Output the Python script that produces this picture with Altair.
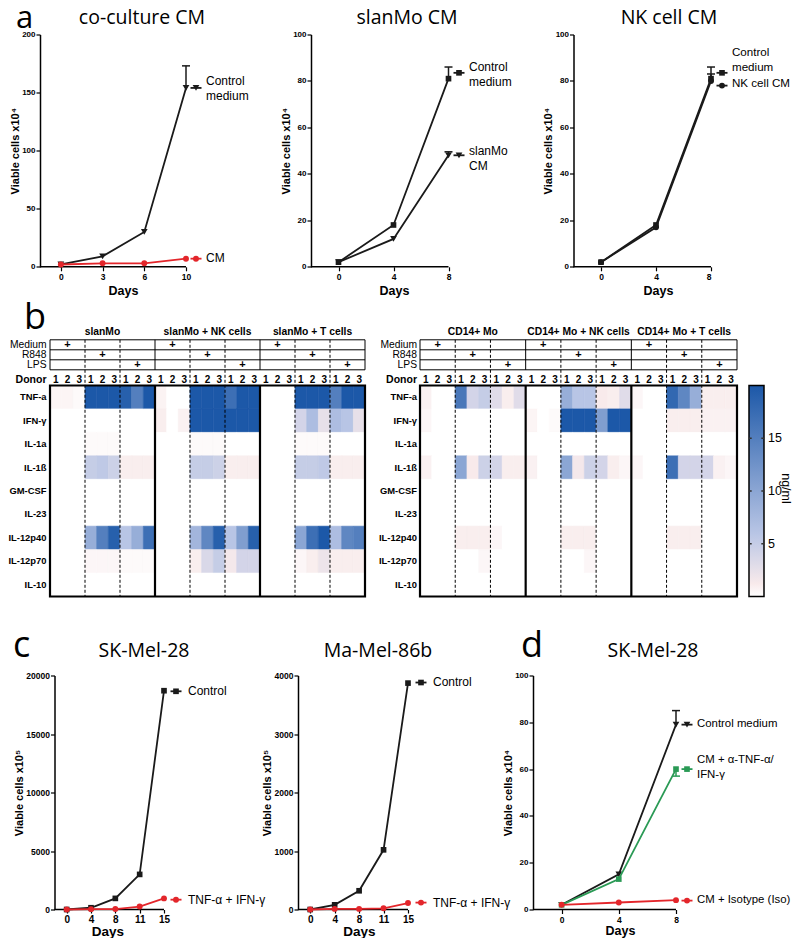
import altair as alt
import pandas as pd

FONT = "Liberation Sans"
TITLE_FONT = "Open Sans"
BLACK = "#1a1a1a"
RED = "#e3262b"
GREEN = "#2a9a55"

# ---------------- panel a ----------------
A1_DAYS = ["0", "3", "6", "10"]
A1_CTRL = [2, 9, 30, 154]
A1_CTRL_ERR = [None, None, None, 173]
A1_CM = [2, 3, 3, 7]

A2_DAYS = ["0", "4", "8"]
A2_CTRL = [2, 18, 81]
A2_CTRL_ERR = [None, None, 86]
A2_SLAN = [2, 12, 48]
A2_SLAN_ERR = [None, None, 49.5]

A3_DAYS = ["0", "4", "8"]
A3_CTRL = [2, 18, 81]
A3_CTRL_ERR = [None, None, 86]
A3_NK = [2, 17, 80]
A3_NK_ERR = [None, None, 83]

# ---------------- panel c ----------------
C_DAYS = ["0", "4", "8", "11", "15"]
C1_CTRL = [0, 150, 950, 3000, 18700]
C1_TNF = [0, 30, 40, 250, 950]
C2_CTRL = [0, 80, 320, 1020, 3870]
C2_TNF = [0, 10, 10, 20, 110]

# ---------------- panel d ----------------
D_DAYS = ["0", "4", "8"]
D_CTRL = [2, 15, 79]
D_CTRL_ERR = [None, None, 85]
D_ANTI = [2, 13, 60]
D_ANTI_ERR = [None, None, 57]
D_ISO = [2, 3, 4]

# ---------------- panel b ----------------
CYTOKINES = ["TNF-a", "IFN-γ", "IL-1a", "IL-1ß", "GM-CSF", "IL-23", "IL-12p40", "IL-12p70", "IL-10"]
SLAN_GROUPS = ["slanMo", "slanMo + NK cells", "slanMo + T cells"]
CD14_GROUPS = ["CD14+ Mo", "CD14+ Mo + NK cells", "CD14+ Mo + T cells"]
TREATMENTS = ["Medium", "R848", "LPS"]
DONORS = ["1", "2", "3"]
COLORBAR_TICKS = [5, 10, 15]

SLAN_VALUES = {
    "TNF-a":    [0.6, 0.6, 0.3, 20, 20, 20, 19, 15, 20,  0.7, 0, 0, 20, 20, 20, 17, 20, 20,  0, 0, 0, 20, 20, 20, 15, 20, 20],
    "IFN-γ":    [0, 0, 0, 0, 0, 0, 0, 0, 0,  1, 0, 0.8, 20, 20, 20, 20, 20, 20,  0, 0, 0, 4, 7, 2.5, 7, 6, 2.5],
    "IL-1a":    [0, 0, 0, 0.3, 0.3, 0.3, 0, 0, 0,  0, 0, 0, 0.3, 0.3, 0.3, 0, 0, 0,  0, 0, 0, 0.3, 0.3, 0.3, 0, 0, 0],
    "IL-1ß":    [0, 0, 0, 5, 5.5, 4.5, 1, 1, 1,  0, 0, 0, 5, 5, 4.5, 1, 1, 1,  0, 0, 0, 5, 5, 5.5, 1, 1, 1],
    "GM-CSF":   [0] * 27,
    "IL-23":    [0] * 27,
    "IL-12p40": [0, 0, 0, 9, 15, 19, 6, 9, 17,  0, 0, 0, 8, 14, 19, 6, 11, 19,  0, 0, 0, 10, 17, 20, 7, 14, 15],
    "IL-12p70": [0, 0, 0, 0.5, 0.5, 0.5, 0.3, 0.3, 0.3,  0, 0, 0, 1, 3.5, 5, 1.5, 4, 4,  0, 0, 0, 0.5, 1, 2, 1, 1, 1],
    "IL-10":    [0] * 27,
}

CD14_VALUES = {
    "TNF-a":    [0.8, 0, 0, 16, 4, 5, 3, 1, 3,  0, 0, 0, 9, 6, 6, 1.2, 1, 3,  0.5, 0, 0, 18, 14, 9, 1, 1, 1],
    "IFN-γ":    [0.5, 0, 0, 0, 0, 0, 0, 0, 0,  0.6, 0, 0.3, 20, 20, 20, 11, 20, 20,  0, 0, 0, 1, 1, 1, 0.8, 0.8, 0.8],
    "IL-1a":    [0] * 27,
    "IL-1ß":    [0.8, 0, 0, 10, 1.2, 4.5, 4, 1, 1,  0.8, 0, 0, 10, 1.5, 4.5, 4, 1, 0.5,  0.5, 0, 0, 17, 4, 4, 4, 0.8, 0.5],
    "GM-CSF":   [0] * 27,
    "IL-23":    [0] * 27,
    "IL-12p40": [0, 0, 0, 1, 1, 1, 0.5, 0, 0,  0, 0, 0, 1, 1, 1, 0, 0, 0,  0, 0, 0, 1, 1, 1, 0, 0, 0],
    "IL-12p70": [0, 0, 0, 0, 0, 0.5, 0, 0, 0,  0, 0, 0, 0, 0, 0.5, 0, 0, 0,  0, 0, 0, 0, 0, 0, 0, 0, 0],
    "IL-10":    [0] * 27,
}

CSCALE = alt.Scale(domain=[0, 1.2, 6, 20], range=["#ffffff", "#f8eaeb", "#b8c5e5", "#1c58a8"],
                   interpolate="rgb", clamp=True)

# ---------------- layout geometry (page pixels) ----------------
COL_EDGES = [39, 297, 532, 710]          # grid column boundaries (spacing 0)
ROW_A_TOP, ROW_A_H = 34.7, 232.3
ROW_SPACING = 40
ROW_B_TOP = ROW_A_TOP + ROW_A_H + ROW_SPACING
ROW_C_TOP, ROW_C_H = 675.0, 234.0
REF_C_TOP, REF_C_H = 676.0, 238.0       # where the reference's row-c text labels were read
ROW_B_H = ROW_C_TOP - ROW_SPACING - ROW_B_TOP
HEAT_TOP_PX = 385.0
ROWH = 211.0 / 9


def ru(py):
    return (py - HEAT_TOP_PX) / ROWH


Y_TOP = ru(ROW_B_TOP)
Y_BOT = ru(ROW_B_TOP + ROW_B_H)


def text_layer(txt, x, y, **kw):
    return alt.Chart(pd.DataFrame({"t": [txt]})).mark_text(**kw).encode(
        text="t:N", x=alt.value(x), y=alt.value(y))


def line_cell(days, series, ymax, yticks, ytitle, g, top, height, title, letter=None):
    n = len(days)
    unit = (g["last"] - g["axis"]) / (n - 0.5)
    left, right = g["left"], g["right"]
    width = right - left
    xmin = -0.5 - (g["axis"] - left) / unit
    xmax = (n - 1) + (right - g["last"]) / unit
    xs = alt.Scale(domain=[xmin, xmax], nice=False, zero=False)
    ys = alt.Scale(domain=[0, ymax], nice=False, zero=False)
    lab = "[" + ",".join("'%s'" % dd for dd in days) + "][datum.value]"
    xaxis = alt.Axis(values=list(range(n)), labelExpr=lab, domain=False, ticks=True, tickSize=g["xtick"],
                     tickWidth=1.2, tickColor="black", labelFont=FONT, labelFontWeight="bold",
                     labelFontSize=g["xlab"], labelColor="black", labelPadding=g["xlpad"], title="Days",
                     titleFont=FONT, titleFontWeight="bold", titleFontSize=g["xtitle"],
                     titleColor="black", titleX=g["days_x"] - left, titlePadding=g["xtpad"],
                     grid=False)
    yaxis = alt.Axis(values=yticks, format="d", domain=True, domainColor="black", domainWidth=1.5,
                     ticks=True, tickSize=4, tickWidth=1.2, tickColor="black", labelFont=FONT,
                     labelFontWeight="bold", labelFontSize=g["ylab"], labelColor="black",
                     labelPadding=1, title=ytitle, titleFont=FONT, titleFontWeight="bold",
                     titleFontSize=g["ytitle"], titleColor="black", titlePadding=g["ytpad"],
                     offset=-(g["axis"] - left), grid=False)

    def X(f):
        return alt.X(f, type="quantitative", scale=xs, axis=xaxis)

    def Y(f):
        return alt.Y(f, type="quantitative", scale=ys, axis=yaxis)

    rt, rh = g.get("ref_top", top), g.get("ref_h", height)

    def px_to_val(py):
        return (rt + rh - py) / rh * ymax

    layers = []
    base_df = pd.DataFrame({"x": [-0.5], "x2": [n - 1], "y": [0]})
    layers.append(alt.Chart(base_df).mark_rule(color="black", strokeWidth=1.5).encode(
        x=X("x"), x2="x2", y=Y("y")))
    cap = 4.0 / unit
    half = 5.5 / unit
    for s in series:
        df = pd.DataFrame({"x": list(range(n)), "y": s["values"]})
        errs = [(i, v, e) for i, (v, e) in enumerate(zip(s["values"], s["err"])) if e is not None]
        if errs:
            edf = pd.DataFrame({"x": [i for i, _, _ in errs], "y": [v for _, v, _ in errs],
                                "e": [e for _, _, e in errs],
                                "xa": [i - cap for i, _, _ in errs], "xb": [i + cap for i, _, _ in errs]})
            layers.append(alt.Chart(edf).mark_rule(color=s["color"], strokeWidth=1.5).encode(
                x=X("x"), y=Y("y"), y2="e"))
            layers.append(alt.Chart(edf).mark_rule(color=s["color"], strokeWidth=1.5).encode(
                x=X("xa"), x2="xb", y=Y("e")))
        layers.append(alt.Chart(df).mark_line(color=s["color"], strokeWidth=1.8).encode(
            x=X("x"), y=Y("y")))
        layers.append(alt.Chart(df).mark_point(filled=True, shape=s["shape"], size=s["size"],
                                               color=s["color"], opacity=1).encode(x=X("x"), y=Y("y")))
        mx = (n - 1) + (s["mk"] - g["last"]) / unit
        tx = (n - 1) + (g["tx"] - g["last"]) / unit
        ldf = pd.DataFrame({"mx": [mx], "xa": [mx - half], "xb": [mx + half], "my": [s["my"]],
                            "tx": [tx], "ty": [px_to_val(s["typx"])], "label": [s["label"]]})
        layers.append(alt.Chart(ldf).mark_rule(color=s["color"], strokeWidth=1.8).encode(
            x=X("xa"), x2="xb", y=Y("my")))
        layers.append(alt.Chart(ldf).mark_point(filled=True, shape=s["shape"], size=s["size"],
                                                color=s["color"], opacity=1).encode(x=X("mx"), y=Y("my")))
        layers.append(alt.Chart(ldf).mark_text(align="left", baseline="middle", font=FONT,
                                               fontSize=g.get("lfont", 12), lineHeight=15, lineBreak="\n",
                                               color="black").encode(
            x=X("tx"), y=Y("ty"), text="label:N"))
    layers.append(text_layer(title[0], title[1] - left, title[2] - top, font=TITLE_FONT, fontSize=19.5,
                             align="center", baseline="alphabetic", color="black"))
    if letter:
        layers.append(text_layer(letter[0], letter[1] - left, letter[2] - top, font=TITLE_FONT,
                                 fontSize=letter[3], align="left", baseline="alphabetic", color="black"))
    return alt.layer(*layers).properties(width=width, height=height)


T_TOP = ru(339.3)
T_R1 = ru(349.3)
T_R2 = ru(359.3)
T_BOT = ru(369.3)
DONOR_Y = ru(379.3)
HEADER_Y = ru(331.7)
TREAT_Y = [(T_TOP + T_R1) / 2, (T_R1 + T_R2) / 2, (T_R2 + T_BOT) / 2]


def heat_cell(groups, values, g, letter=None):
    unit = g["unit"]
    left, right, hl = g["left"], g["right"], g["heat_left"]
    xs = alt.Scale(domain=[-(hl - left) / unit, (right - hl) / unit], nice=False, zero=False)
    ys = alt.Scale(domain=[Y_TOP, Y_BOT], nice=False, zero=False, reverse=True)

    def X(f):
        return alt.X(f, type="quantitative", scale=xs, axis=None)

    def Y(f):
        return alt.Y(f, type="quantitative", scale=ys, axis=None)

    nt, nd = len(TREATMENTS), len(DONORS)
    per = nt * nd
    ncol = per * len(groups)
    nrow = len(CYTOKINES)
    rows = []
    for r, name in enumerate(CYTOKINES):
        for c, v in enumerate(values[name]):
            rows.append({"x": c, "x2": c + 1, "y": r, "y2": r + 1, "v": v})
    layers = [alt.Chart(pd.DataFrame(rows)).mark_rect(strokeWidth=0.6).encode(
        x=X("x"), x2="x2", y=Y("y"), y2="y2",
        color=alt.Color("v:Q", scale=CSCALE, legend=None),
        stroke=alt.Stroke("v:Q", scale=CSCALE, legend=None))]
    gsep = [per * k for k in range(1, len(groups))]
    csep = [per * k + nd * j for k in range(len(groups)) for j in range(1, nt)]
    layers.append(alt.Chart(pd.DataFrame({"x": csep, "y": [T_TOP] * len(csep), "y2": [nrow] * len(csep)}))
                  .mark_rule(color="black", strokeWidth=1, strokeDash=[3, 2]).encode(x=X("x"), y=Y("y"), y2="y2"))
    layers.append(alt.Chart(pd.DataFrame({"x": [0], "x2": [ncol], "y": [T_TOP], "y2": [T_BOT]}))
                  .mark_rect(fillOpacity=0, stroke="black", strokeWidth=1).encode(x=X("x"), x2="x2", y=Y("y"), y2="y2"))
    layers.append(alt.Chart(pd.DataFrame({"x": [0, 0], "x2": [ncol, ncol], "y": [T_R1, T_R2]}))
                  .mark_rule(color="black", strokeWidth=1).encode(x=X("x"), x2="x2", y=Y("y")))
    layers.append(alt.Chart(pd.DataFrame({"x": gsep, "y": [T_TOP] * len(gsep), "y2": [T_BOT] * len(gsep)}))
                  .mark_rule(color="black", strokeWidth=1).encode(x=X("x"), y=Y("y"), y2="y2"))
    layers.append(alt.Chart(pd.DataFrame({"x": gsep, "y": [0] * len(gsep), "y2": [nrow] * len(gsep)}))
                  .mark_rule(color="black", strokeWidth=2.2).encode(x=X("x"), y=Y("y"), y2="y2"))
    layers.append(alt.Chart(pd.DataFrame({"x": [0], "x2": [ncol], "y": [0], "y2": [nrow]}))
                  .mark_rect(fillOpacity=0, stroke="black", strokeWidth=2.2).encode(x=X("x"), x2="x2", y=Y("y"), y2="y2"))
    lx = -g["gap"] / unit
    plus = pd.DataFrame({"x": [per * k + nd * j + nd / 2 for k in range(len(groups)) for j in range(nt)],
                         "y": [TREAT_Y[j] for k in range(len(groups)) for j in range(nt)],
                         "t": ["+"] * (len(groups) * nt)})
    layers.append(alt.Chart(plus).mark_text(font=FONT, fontSize=11, fontWeight="bold", color="black",
                                            baseline="middle", dy=0.5)
                  .encode(x=X("x"), y=Y("y"), text="t:N"))
    tl = pd.DataFrame({"x": [lx] * nt, "y": TREAT_Y, "t": TREATMENTS})
    layers.append(alt.Chart(tl).mark_text(font=FONT, fontSize=10.3, color="black", align="right",
                                          baseline="middle").encode(x=X("x"), y=Y("y"), text="t:N"))
    dl = pd.DataFrame({"x": [lx], "y": [DONOR_Y], "t": ["Donor"]})
    layers.append(alt.Chart(dl).mark_text(font=FONT, fontSize=10.5, fontWeight="bold", color="black",
                                          align="right", baseline="middle").encode(x=X("x"), y=Y("y"), text="t:N"))
    dd = pd.DataFrame({"x": [c + 0.5 for c in range(ncol)], "y": [DONOR_Y] * ncol,
                       "t": [DONORS[c % nd] for c in range(ncol)]})
    layers.append(alt.Chart(dd).mark_text(font=FONT, fontSize=10, fontWeight="bold", color="black",
                                          baseline="middle").encode(x=X("x"), y=Y("y"), text="t:N"))
    gh = pd.DataFrame({"x": [per * k + per / 2 for k in range(len(groups))], "y": [HEADER_Y] * len(groups),
                       "t": groups})
    layers.append(alt.Chart(gh).mark_text(font=FONT, fontSize=10.3, fontWeight="bold", color="black",
                                          baseline="middle").encode(x=X("x"), y=Y("y"), text="t:N"))
    cl = pd.DataFrame({"x": [lx] * nrow, "y": [r + 0.5 for r in range(nrow)], "t": CYTOKINES})
    layers.append(alt.Chart(cl).mark_text(font=FONT, fontSize=9.4, fontWeight="bold", color="black",
                                          align="right", baseline="middle").encode(x=X("x"), y=Y("y"), text="t:N"))
    if letter:
        layers.append(text_layer(letter[0], letter[1] - left, letter[2] - ROW_B_TOP, font=TITLE_FONT,
                                 fontSize=letter[3], align="left", baseline="alphabetic", color="black"))
    return alt.layer(*layers).properties(width=right - left, height=ROW_B_H)


def colorbar_cell(left, right, bar_left, bar_right):
    width = right - left
    bw = bar_right - bar_left
    xs = alt.Scale(domain=[(left - bar_left) / bw, (right - bar_left) / bw], nice=False, zero=False)
    ys = alt.Scale(domain=[Y_TOP, Y_BOT], nice=False, zero=False, reverse=True)
    vmax = CSCALE.domain[-1]
    nrow = len(CYTOKINES)

    def X(f):
        return alt.X(f, type="quantitative", scale=xs, axis=None)

    def Y(f):
        return alt.Y(f, type="quantitative", scale=ys, axis=None)

    stops = [alt.GradientStop(offset=dv / vmax, color=c) for dv, c in zip(CSCALE.domain, CSCALE.range)]
    grad = alt.LinearGradient(gradient="linear", stops=stops, x1=0, x2=0, y1=1, y2=0)
    layers = [alt.Chart(pd.DataFrame({"x": [0], "x2": [1], "y": [0], "y2": [nrow]}))
              .mark_rect(fill=grad, stroke="black", strokeWidth=1.5).encode(x=X("x"), x2="x2", y=Y("y"), y2="y2")]
    ty = [nrow - v / vmax * nrow for v in COLORBAR_TICKS]
    tdf = pd.DataFrame({"xa": [0] * 3 + [0.82] * 3, "xb": [0.18] * 3 + [1] * 3, "y": ty + ty})
    layers.append(alt.Chart(tdf).mark_rule(color="#333", strokeWidth=1.5).encode(x=X("xa"), x2="xb", y=Y("y")))
    ldf = pd.DataFrame({"x": [1 + 4.0 / bw] * 3, "y": ty, "t": [str(v) for v in COLORBAR_TICKS]})
    layers.append(alt.Chart(ldf).mark_text(font=FONT, fontSize=12.5, align="left", baseline="middle",
                                           color="black").encode(x=X("x"), y=Y("y"), text="t:N"))
    udf = pd.DataFrame({"x": [(785 - bar_left) / bw], "y": [ru(488)], "t": ["ng/ml"]})
    layers.append(alt.Chart(udf).mark_text(font=FONT, fontSize=12.5, angle=90, align="center",
                                           baseline="middle", color="black").encode(x=X("x"), y=Y("y"), text="t:N"))
    return alt.layer(*layers).properties(width=width, height=ROW_B_H)


GA = dict(xlab=8.5, xtitle=12.5, ylab=8, ytitle=11, xtick=4, xlpad=2, xtpad=3, ytpad=1.5)
GC = dict(xlab=10, xtitle=13.5, ylab=8.5, ytitle=11, xtick=3.5, xlpad=1, xtpad=0, ytpad=1.5,
          ref_top=REF_C_TOP, ref_h=REF_C_H)
GD = dict(xlab=8.5, xtitle=12.5, ylab=8, ytitle=11, xtick=4, xlpad=2, xtpad=0.5, ytpad=1.5,
          ref_top=REF_C_TOP, ref_h=REF_C_H, lfont=11.4)
L0, L1, L2, L3 = COL_EDGES
C_TITLE_Y = 656
A_TITLE_Y = 24

a1 = line_cell(A1_DAYS, [
    dict(values=A1_CTRL, err=A1_CTRL_ERR, color=BLACK, shape="triangle-down", size=45, mk=195, my=154, typx=81,
         label="Control\nmedium"),
    dict(values=A1_CM, err=[None] * 4, color=RED, shape="circle", size=35, mk=195, my=7, typx=258, label="CM"),
], 200, [0, 50, 100, 150, 200], "Viable cells x10⁴",
    dict(GA, left=L0, axis=39, last=185, right=L1, days_x=122, tx=205), ROW_A_TOP, ROW_A_H,
    ("co-culture CM", 141, A_TITLE_Y), ("a", 15, 28, 31))

a2 = line_cell(A2_DAYS, [
    dict(values=A2_CTRL, err=A2_CTRL_ERR, color=BLACK, shape="square", size=32, mk=458, my=83.5, typx=67,
         label="Control\nmedium"),
    dict(values=A2_SLAN, err=A2_SLAN_ERR, color=BLACK, shape="triangle-down", size=45, mk=458, my=48, typx=151,
         label="slanMo\nCM"),
], 100, [0, 20, 40, 60, 80, 100], "Viable cells x10⁴",
    dict(GA, left=L1, axis=310, last=447.5, right=L2, days_x=393, tx=468), ROW_A_TOP, ROW_A_H,
    ("slanMo CM", 406, A_TITLE_Y))

a3 = line_cell(A3_DAYS, [
    dict(values=A3_CTRL, err=A3_CTRL_ERR, color=BLACK, shape="square", size=32, mk=721, my=83.5, typx=53,
         label="Control\nmedium"),
    dict(values=A3_NK, err=A3_NK_ERR, color=BLACK, shape="circle", size=35, mk=721, my=78, typx=84,
         label="NK cell CM"),
], 100, [0, 20, 40, 60, 80, 100], "Viable cells x10⁴",
    dict(GA, left=L2, axis=572.5, last=710, right=L3, days_x=657, tx=731, lfont=11.6), ROW_A_TOP, ROW_A_H,
    ("NK cell CM", 668, A_TITLE_Y))

bL = heat_cell(SLAN_GROUPS, SLAN_VALUES, dict(left=L0, heat_left=49, unit=315 / 27, right=L1, gap=3.5),
               ("b", 23, 328, 36))
bR = heat_cell(CD14_GROUPS, CD14_VALUES, dict(left=L1, heat_left=419, unit=317 / 27, right=L2, gap=3))
cbar = colorbar_cell(L2, L3, 748, 763)

c1 = line_cell(C_DAYS, [
    dict(values=C1_CTRL, err=[None] * 5, color=BLACK, shape="square", size=32, mk=175, my=18650, typx=692,
         label="Control"),
    dict(values=C1_TNF, err=[None] * 5, color=RED, shape="circle", size=35, mk=175, my=840, typx=904,
         label="TNF-α + IFN-γ"),
], 20000, [0, 5000, 10000, 15000, 20000], "Viable cells x10⁵",
    dict(GC, left=L0, axis=53.5, last=163, right=L1, days_x=106.5, tx=187), ROW_C_TOP, ROW_C_H,
    ("SK-Mel-28", 143, C_TITLE_Y), ("c", 12, C_TITLE_Y, 36))

c2 = line_cell(C_DAYS, [
    dict(values=C2_CTRL, err=[None] * 5, color=BLACK, shape="square", size=32, mk=420, my=3880, typx=683,
         label="Control"),
    dict(values=C2_TNF, err=[None] * 5, color=RED, shape="circle", size=35, mk=420, my=118, typx=907,
         label="TNF-α + IFN-γ"),
], 4000, [0, 1000, 2000, 3000, 4000], "Viable cells x10⁵",
    dict(GC, left=L1, axis=297, last=407, right=L2, days_x=358, tx=432), ROW_C_TOP, ROW_C_H,
    ("Ma-Mel-86b", 377, C_TITLE_Y))

d = line_cell(D_DAYS, [
    dict(values=D_CTRL, err=D_CTRL_ERR, color=BLACK, shape="triangle-down", size=45, mk=686, my=79, typx=725,
         label="Control medium"),
    dict(values=D_ANTI, err=D_ANTI_ERR, color=GREEN, shape="square", size=32, mk=686, my=60, typx=762,
         label="CM + α-TNF-α/\nIFN-γ"),
    dict(values=D_ISO, err=[None] * 3, color=RED, shape="circle", size=35, mk=686, my=3.8, typx=904,
         label="CM + Isotype (Iso)"),
], 100, [0, 20, 40, 60, 80, 100], "Viable cells x10⁴",
    dict(GD, left=L2, axis=532, last=675, right=L3, days_x=619, tx=696), ROW_C_TOP, ROW_C_H,
    ("SK-Mel-28", 652, C_TITLE_Y), ("d", 520, C_TITLE_Y, 36))

chart = alt.concat(a1, a2, a3, bL, bR, cbar, c1, c2, d, columns=3,
                   spacing={"row": ROW_SPACING, "column": 0}, bounds="flush") \
    .properties(padding={"left": 0, "top": -5.5, "right": 0, "bottom": 0}) \
    .configure_view(stroke=None)

chart.save("out.html", embed_options={"renderer": "svg", "actions": False})
